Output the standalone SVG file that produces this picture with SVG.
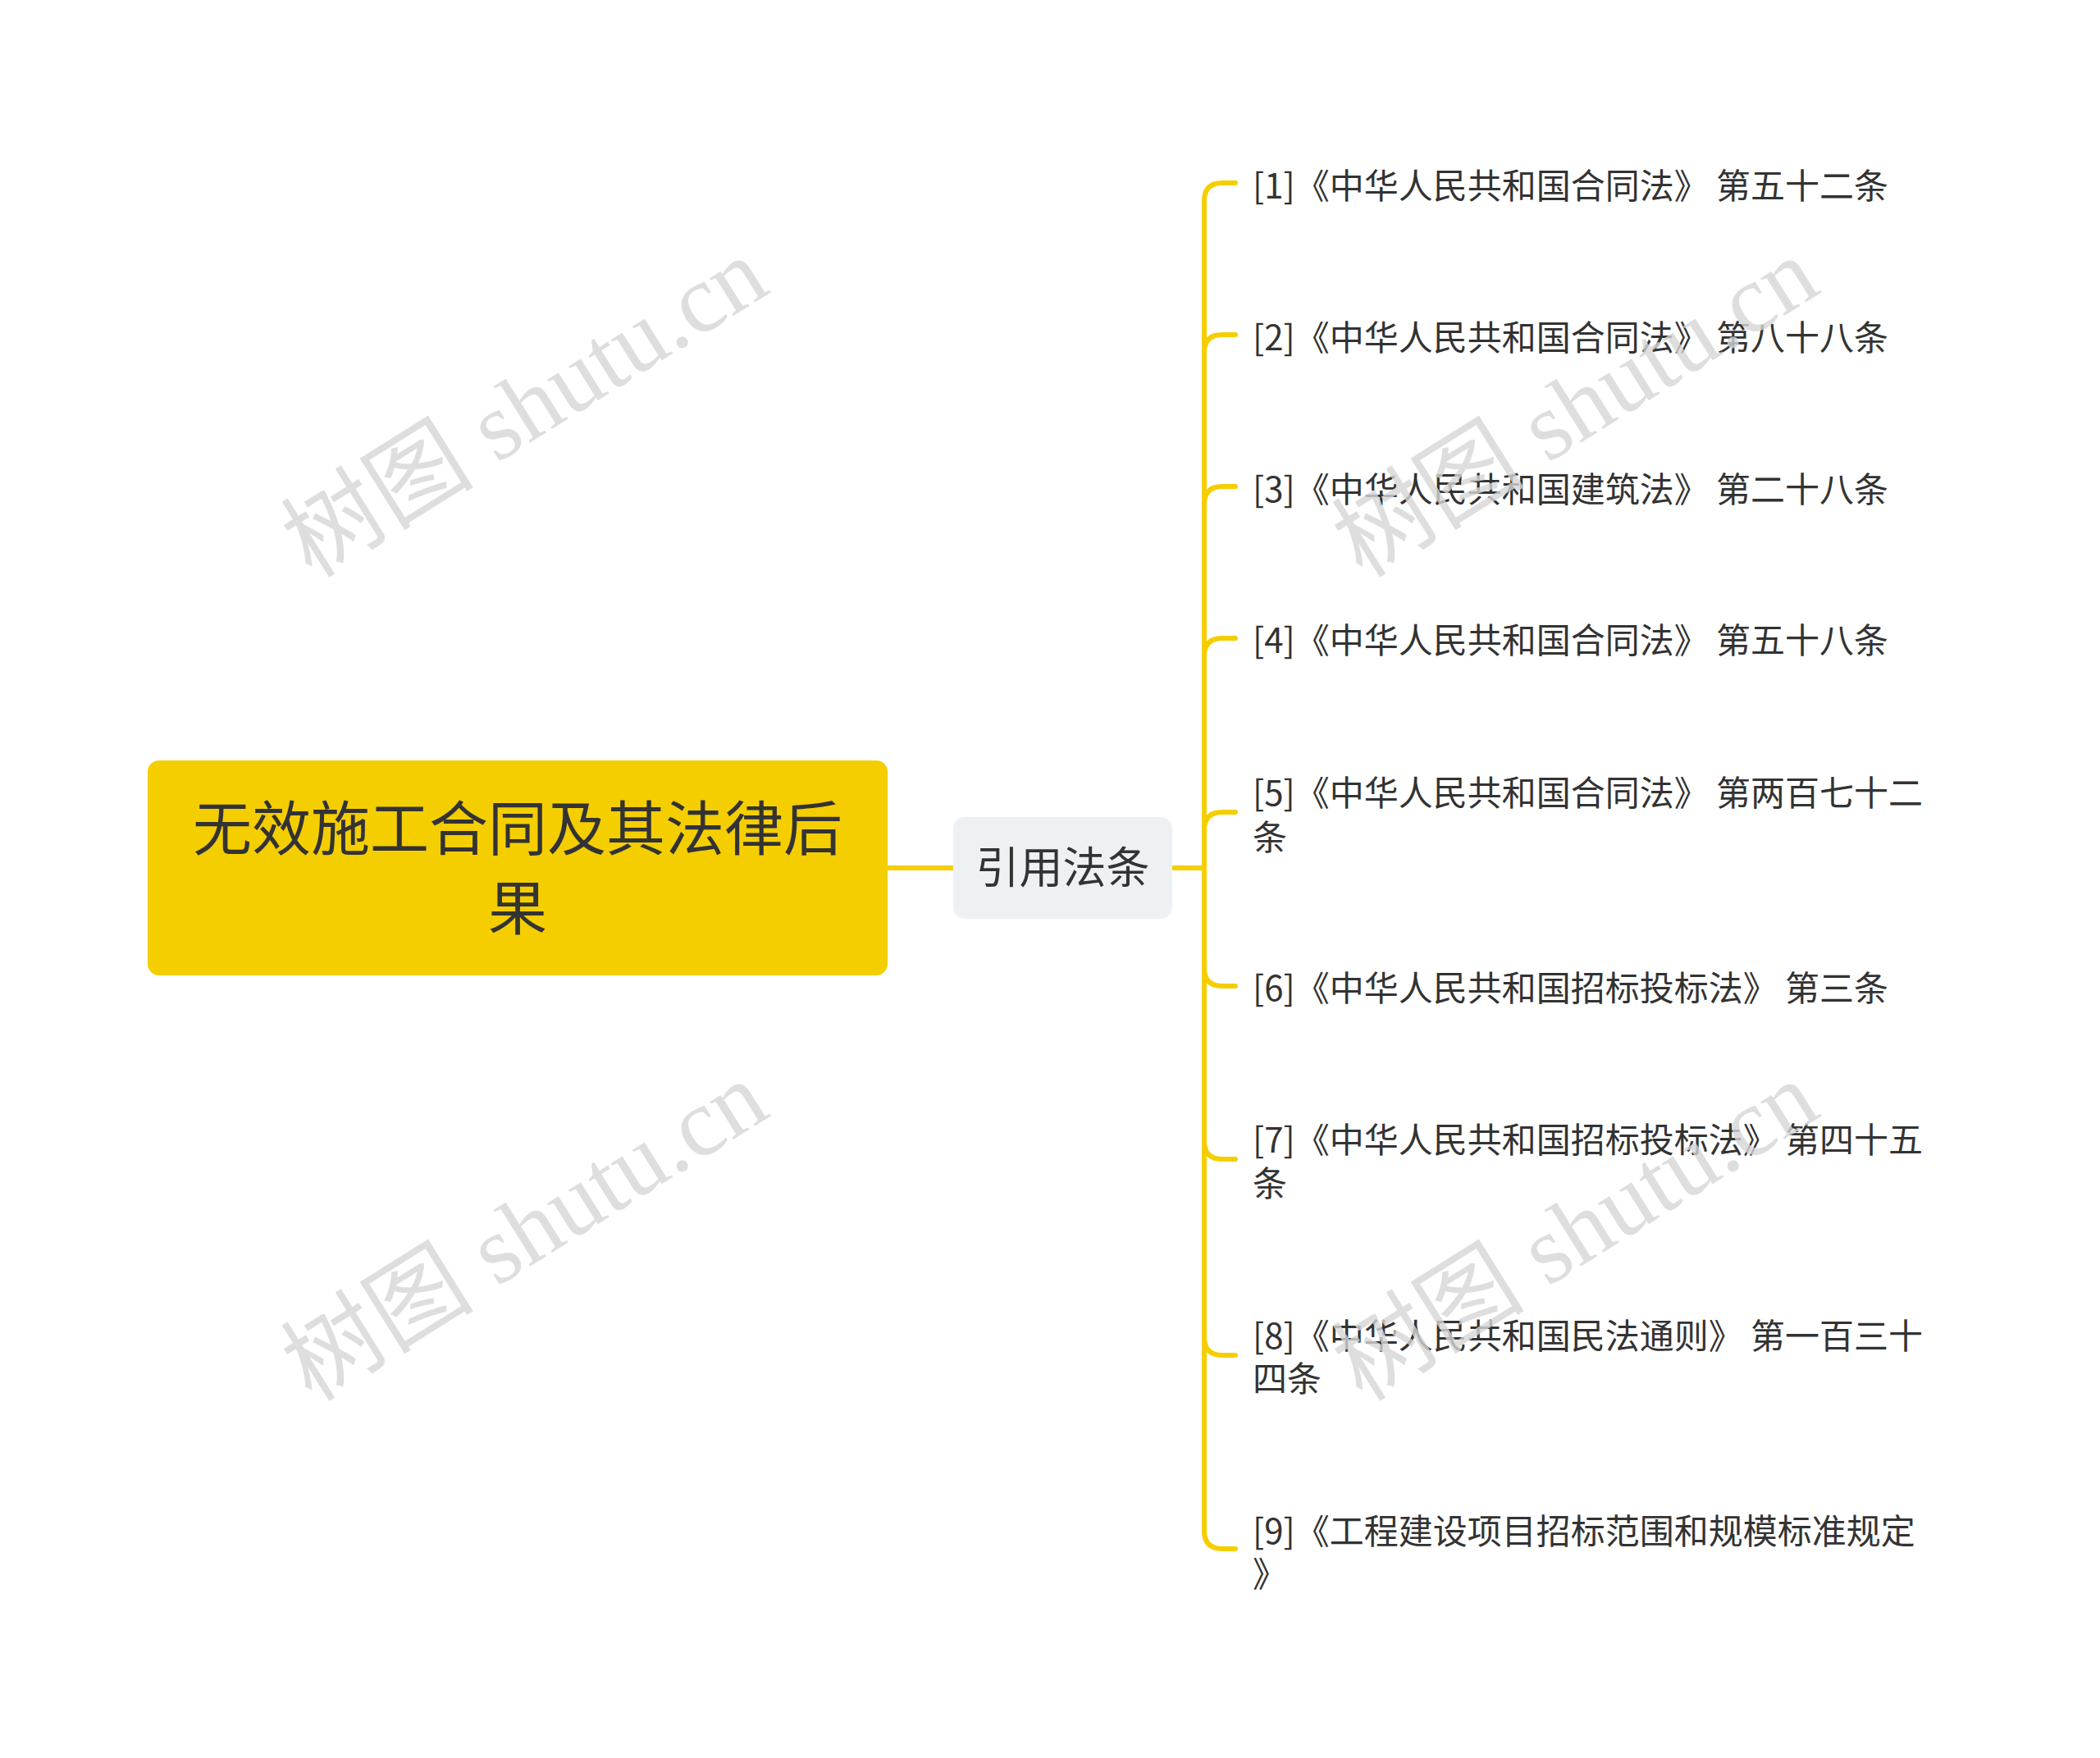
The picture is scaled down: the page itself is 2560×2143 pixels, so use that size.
<svg xmlns="http://www.w3.org/2000/svg" width="2560" height="2143" viewBox="0 0 2560 2143">
<style>
.wm{font-family:"Liberation Serif","Noto Sans CJK SC",serif;font-size:118px;fill:#d6d6d6;fill-opacity:0.8}
.leaf{font-family:"Noto Sans CJK SC","Noto Sans",sans-serif;font-size:42px;fill:#333333}
.root{font-family:"Noto Sans CJK SC",sans-serif;font-size:72px;fill:#333333;text-anchor:middle}
.mid{font-family:"Noto Sans CJK SC",sans-serif;font-size:53px;fill:#333333;text-anchor:middle}
.con{fill:none;stroke:#F5CE00;stroke-width:6;stroke-linecap:round}
</style>
<rect width="2560" height="2143" fill="#ffffff"/>
<g id="connectors">
<path class="con" d="M1082 1058 L1162 1058"/>
<path class="con" d="M1429 1058 L1468 1058"/>
<path class="con" d="M1468 1058 L1468 245 Q1468 223 1490 223 L1506 223"/>
<path class="con" d="M1468 1058 L1468 430 Q1468 408 1490 408 L1506 408"/>
<path class="con" d="M1468 1058 L1468 615 Q1468 593 1490 593 L1506 593"/>
<path class="con" d="M1468 1058 L1468 800 Q1468 778 1490 778 L1506 778"/>
<path class="con" d="M1468 1058 L1468 1012 Q1468 990 1490 990 L1506 990"/>
<path class="con" d="M1468 1058 L1468 1180 Q1468 1202 1490 1202 L1506 1202"/>
<path class="con" d="M1468 1058 L1468 1391 Q1468 1413 1490 1413 L1506 1413"/>
<path class="con" d="M1468 1058 L1468 1630 Q1468 1652 1490 1652 L1506 1652"/>
<path class="con" d="M1468 1058 L1468 1866 Q1468 1888 1490 1888 L1506 1888"/>
</g>
<g id="root">
<rect x="180" y="927" width="902" height="262" rx="14" fill="#F5CE00"/>
<text class="root" x="631" y="1036">无效施工合同及其法律后</text>
<text class="root" x="631" y="1133">果</text>
</g>
<g id="mid">
<rect x="1162" y="996" width="267" height="124" rx="14" fill="#EEF1F4"/>
<text class="mid" x="1295.5" y="1077">引用法条</text>
</g>
<g id="leaf1"><text class="leaf" x="1527" y="242">[1]《中华人民共和国合同法》 第五十二条</text></g>
<g id="leaf2"><text class="leaf" x="1527" y="427">[2]《中华人民共和国合同法》 第八十八条</text></g>
<g id="leaf3"><text class="leaf" x="1527" y="612">[3]《中华人民共和国建筑法》 第二十八条</text></g>
<g id="leaf4"><text class="leaf" x="1527" y="796">[4]《中华人民共和国合同法》 第五十八条</text></g>
<g id="leaf5"><text class="leaf" x="1527" y="982">[5]《中华人民共和国合同法》 第两百七十二</text><text class="leaf" x="1527" y="1036">条</text></g>
<g id="leaf6"><text class="leaf" x="1527" y="1220">[6]《中华人民共和国招标投标法》 第三条</text></g>
<g id="leaf7"><text class="leaf" x="1527" y="1405">[7]《中华人民共和国招标投标法》 第四十五</text><text class="leaf" x="1527" y="1458">条</text></g>
<g id="leaf8"><text class="leaf" x="1527" y="1644">[8]《中华人民共和国民法通则》 第一百三十</text><text class="leaf" x="1527" y="1696">四条</text></g>
<g id="leaf9"><text class="leaf" x="1527" y="1882">[9]《工程建设项目招标范围和规模标准规定</text><text class="leaf" x="1527" y="1934">》</text></g>
<g id="watermarks">
<text class="wm" transform="translate(380 706) rotate(-32)">树图 shutu.cn</text>
<text class="wm" transform="translate(380 1710) rotate(-32)">树图 shutu.cn</text>
<text class="wm" transform="translate(1661 706) rotate(-32)">树图 shutu.cn</text>
<text class="wm" transform="translate(1661 1710) rotate(-32)">树图 shutu.cn</text>
</g>
</svg>
